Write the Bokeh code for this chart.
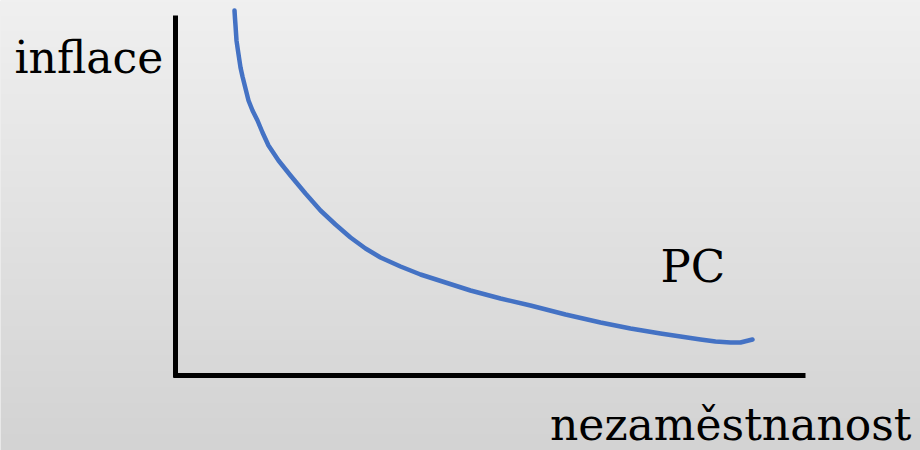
import numpy as np
from bokeh.plotting import figure
from bokeh.models import Range1d
from bokeh.core.properties import value
from bokeh.embed import file_html
from bokeh.resources import INLINE

# Phillips curve (PC): unemployment vs inflation (arbitrary units)
unemployment = [5.9, 5.95, 6.0, 6.1, 6.2, 6.35, 6.5, 6.7, 6.9, 7.1, 7.3, 7.7, 8.2, 8.7, 9.3,
                10.3, 11.5, 13.0, 14.5, 16.0, 17.5, 19.0, 20.5, 22.5, 24.5, 27.0, 29.5,
                32.5, 35.5, 39.0, 42.5, 45.5, 48.5, 50.5, 52.5, 54.0, 55.5, 56.5, 57.7]
inflation = [36.5, 35.7, 35.0, 33.5, 32.8, 31.8, 30.8, 29.9, 29.1, 28.3, 27.5, 26.5, 25.5,
             24.3, 23.0, 21.5, 20.0, 18.2, 16.5, 15.1, 13.8, 12.7, 11.8, 10.9, 10.1, 9.3,
             8.5, 7.7, 7.0, 6.1, 5.3, 4.7, 4.2, 3.9, 3.6, 3.4, 3.3, 3.3, 3.6]

axis_label_y = "inflace"
axis_label_x = "nezaměstnanost"
curve_label = "PC"

X0, X1 = -17.5, 74.5
Y0, Y1 = -7.5, 37.5

p = figure(width=920, height=450, output_backend="svg", toolbar_location=None,
           x_range=Range1d(X0, X1), y_range=Range1d(Y0, Y1), min_border=0)
p.axis.visible = False
p.grid.visible = False
p.outline_line_color = None
p.background_fill_color = "#e2e2e2"
p.border_fill_color = "#e2e2e2"

# vertical grey gradient background
n = 200
top = np.array([240, 240, 240])
bot = np.array([211, 211, 211])
t = np.linspace(0, 1, n)[:, None]
cols = (bot * (1 - t) + top * t).astype(np.uint32)  # row 0 = bottom
img = np.empty((n, 1), dtype=np.uint32)
view = img.view(dtype=np.uint8).reshape((n, 1, 4))
view[:, 0, 0] = cols[:, 0]
view[:, 0, 1] = cols[:, 1]
view[:, 0, 2] = cols[:, 2]
view[:, 0, 3] = 255
p.image_rgba(image=[img], x=X0, y=Y0, dw=X1 - X0, dh=Y1 - Y0)

# axes
p.line([0, 0], [-0.2, 36.0], line_color="black", line_width=5)
p.line([-0.2, 63.0], [0.0, 0.0], line_color="black", line_width=5)

# curve
p.line(unemployment, inflation, line_color="#4472C4", line_width=4.5,
       line_join="round", line_cap="round")

font = value("DejaVu Serif")
p.text(x=[-16.1], y=[31.8], text=[axis_label_y], text_font=font, text_font_size="44px",
       text_color="black", text_baseline="alphabetic", text_align="left")
p.text(x=[73.6], y=[-4.9], text=[axis_label_x], text_font=font, text_font_size="44px",
       text_color="black", text_baseline="alphabetic", text_align="right")
p.text(x=[48.5], y=[10.9], text=[curve_label], text_font=font, text_font_size="45px",
       text_color="black", text_baseline="alphabetic", text_align="left")

open("out.html", "w").write(file_html(p, INLINE))
